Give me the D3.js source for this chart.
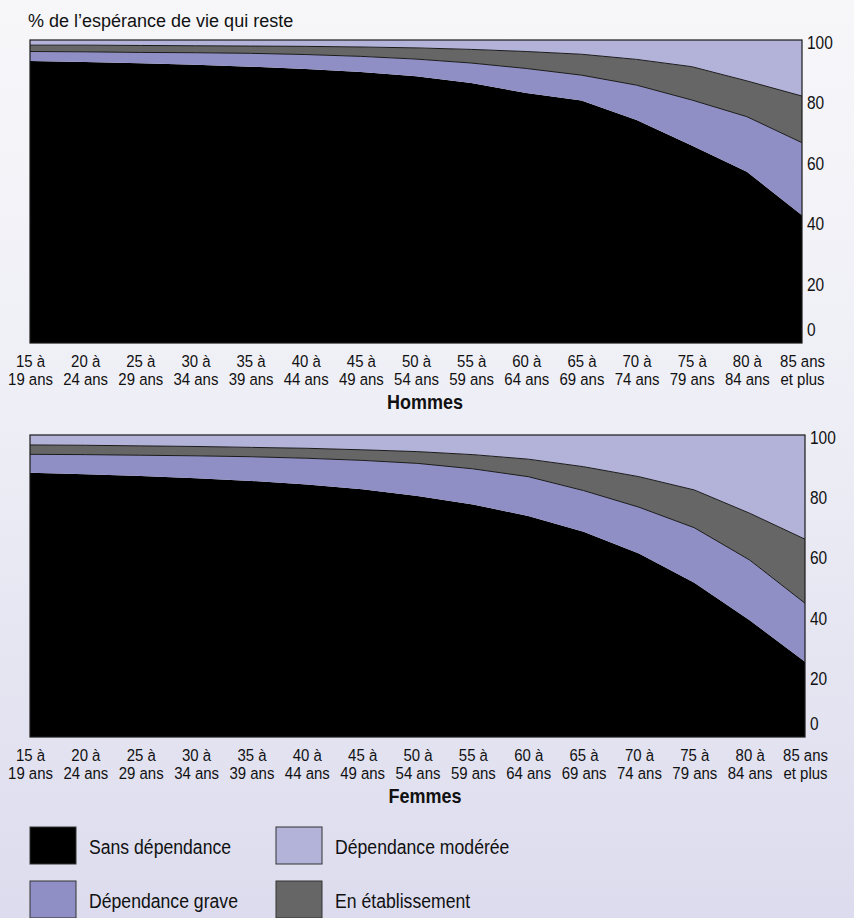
<!DOCTYPE html>
<html lang="fr">
<head>
<meta charset="utf-8">
<script src="https://cdn.jsdelivr.net/npm/d3@7"></script>
<style>
    html, body { margin: 0; padding: 0; }
    body {
        width: 854px; height: 918px; overflow: hidden;
        background: linear-gradient(to bottom, #f7f7fa 0%, #eeeef6 45%, #dcdcee 100%);
    }
    svg text { fill: #111; font-family: "Liberation Sans", Arial, sans-serif; }
</style>
</head>
<body>
<div id="chart"></div>
<script>
// age groups (two-line tick labels)
const ageGroups = [
    ["15 à", "19 ans"], ["20 à", "24 ans"], ["25 à", "29 ans"], ["30 à", "34 ans"],
    ["35 à", "39 ans"], ["40 à", "44 ans"], ["45 à", "49 ans"], ["50 à", "54 ans"],
    ["55 à", "59 ans"], ["60 à", "64 ans"], ["65 à", "69 ans"], ["70 à", "74 ans"],
    ["75 à", "79 ans"], ["80 à", "84 ans"], ["85 ans", "et plus"]
];
const yTicks = [0, 20, 40, 60, 80, 100];

// share of remaining life expectancy (%), men
const hommesSans    = [93.1, 92.7, 92.3, 91.8, 91.2, 90.4, 89.4, 88.0, 85.8, 82.5, 80.0, 73.6, 65.2, 56.5, 42.2];
const hommesGrave   = [3.1, 3.4, 3.6, 4.0, 4.4, 4.8, 5.2, 5.7, 6.6, 8.1, 8.4, 11.5, 15.0, 18.2, 23.9];
const hommesEtab    = [2.1, 2.2, 2.3, 2.3, 2.4, 2.7, 3.1, 3.7, 4.5, 5.6, 6.9, 8.5, 11.0, 11.8, 15.4];
const hommesModeree = [1.7, 1.7, 1.8, 1.9, 2.0, 2.1, 2.3, 2.6, 3.1, 3.8, 4.7, 6.4, 8.8, 13.5, 18.5];

// share of remaining life expectancy (%), women
const femmesSans    = [87.5, 87.0, 86.4, 85.7, 84.8, 83.6, 82.0, 79.8, 77.0, 73.2, 68.0, 60.8, 51.1, 38.7, 24.9];
const femmesGrave   = [6.1, 6.5, 6.9, 7.4, 8.0, 8.7, 9.6, 10.8, 11.8, 13.0, 13.6, 15.3, 18.2, 19.9, 19.4];
const femmesEtab    = [3.1, 3.1, 3.1, 3.1, 3.1, 3.3, 3.5, 3.9, 4.7, 5.8, 7.9, 10.1, 12.5, 15.5, 21.2];
const femmesModeree = [3.3, 3.4, 3.6, 3.8, 4.1, 4.4, 4.9, 5.5, 6.5, 8.0, 10.5, 13.8, 18.2, 25.9, 34.5];

const keys = ["sans", "grave", "etab", "moderee"];
const colors = { sans: "#000000", grave: "#8f8fc6", etab: "#666666", moderee: "#b3b3d9" };
const legendItems = [
    { key: "sans", label: "Sans dépendance" },
    { key: "grave", label: "Dépendance grave" },
    { key: "moderee", label: "Dépendance modérée" },
    { key: "etab", label: "En établissement" }
];

document.addEventListener('DOMContentLoaded', () => {
    const svg = d3.select("#chart")
        .append("svg")
        .attr("width", 854)
        .attr("height", 918);

    svg.append("text")
        .attr("x", 28)
        .attr("y", 27)
        .style("font-size", "18px")
        .text("% de l’espérance de vie qui reste");

    function drawPanel(top, bottom, right, title, sans, grave, etab, moderee) {
        const left = 30;
        const rows = ageGroups.map((g, i) => ({
            age: g.join(" "),
            sans: sans[i], grave: grave[i], etab: etab[i], moderee: moderee[i]
        }));

        const x = d3.scalePoint()
            .domain(rows.map(d => d.age))
            .range([left, right]);

        const y = d3.scaleLinear()
            .domain([0, 100])
            .range([bottom, top]);

        const series = d3.stack().keys(keys)(rows);

        const area = d3.area()
            .x(d => x(d.data.age))
            .y0(d => y(d[0]))
            .y1(d => y(d[1]));

        const g = svg.append("g");

        g.selectAll(".layer")
            .data(series)
            .enter()
            .append("path")
            .attr("class", "layer")
            .attr("d", area)
            .style("fill", d => colors[d.key]);

        // thin dark lines on top of grave and etab layers
        const line = d3.line()
            .x(d => x(d.data.age))
            .y(d => y(d[1]));

        g.selectAll(".edge")
            .data(series.filter(s => s.key === "grave" || s.key === "etab"))
            .enter()
            .append("path")
            .attr("class", "edge")
            .attr("d", line)
            .style("fill", "none")
            .style("stroke", "#1a1a1a")
            .style("stroke-width", 1);

        g.append("rect")
            .attr("x", left)
            .attr("y", top)
            .attr("width", right - left)
            .attr("height", bottom - top)
            .style("fill", "none")
            .style("stroke", "#1a1a1a")
            .style("stroke-width", 1.2);

        // y axis on the right, labels only (condensed look)
        const yAxis = g.append("g")
            .attr("transform", `translate(${right},0)`)
            .call(d3.axisRight(y).tickValues(yTicks).tickSize(0));
        yAxis.select(".domain").remove();
        yAxis.selectAll("text")
            .attr("x", 0)
            .attr("transform", "translate(5,0) scale(0.86,1)")
            .attr("dy", d => d === 0 ? "-0.4em" : "0.45em")
            .style("font-size", "18px")
            .style("fill", "#111");

        // x axis: two-line labels under each age group
        const xAxis = g.append("g")
            .attr("transform", `translate(0,${bottom})`)
            .call(d3.axisBottom(x).tickSize(0).tickFormat(""));
        xAxis.select(".domain").remove();
        xAxis.selectAll(".tick").each(function (d, i) {
            const t = d3.select(this).append("text")
                .attr("text-anchor", "middle")
                .attr("transform", "scale(0.88,1)")
                .style("font-size", "17px")
                .style("fill", "#111");
            t.append("tspan").attr("x", 0).attr("y", 24).text(ageGroups[i][0]);
            t.append("tspan").attr("x", 0).attr("y", 42).text(ageGroups[i][1]);
        });

        g.append("text")
            .attr("transform", `translate(425,${bottom + 66}) scale(0.9,1)`)
            .attr("text-anchor", "middle")
            .style("font-size", "20px")
            .style("font-weight", "bold")
            .text(title);
    }

    drawPanel(40, 343, 802, "Hommes", hommesSans, hommesGrave, hommesEtab, hommesModeree);
    drawPanel(435, 737, 805, "Femmes", femmesSans, femmesGrave, femmesEtab, femmesModeree);

    // legend, two columns
    const legend = svg.append("g");
    legendItems.forEach((item, i) => {
        const col = Math.floor(i / 2), row = i % 2;
        const lx = 30 + col * 246, ly = 827 + row * 54;
        legend.append("rect")
            .attr("x", lx)
            .attr("y", ly)
            .attr("width", 46)
            .attr("height", 37)
            .style("fill", colors[item.key])
            .style("stroke", "#333")
            .style("stroke-width", 1);
        legend.append("text")
            .attr("transform", `translate(${lx + 59},${ly + 27}) scale(0.84,1)`)
            .style("font-size", "21px")
            .text(item.label);
    });
});
</script>
</body>
</html>
